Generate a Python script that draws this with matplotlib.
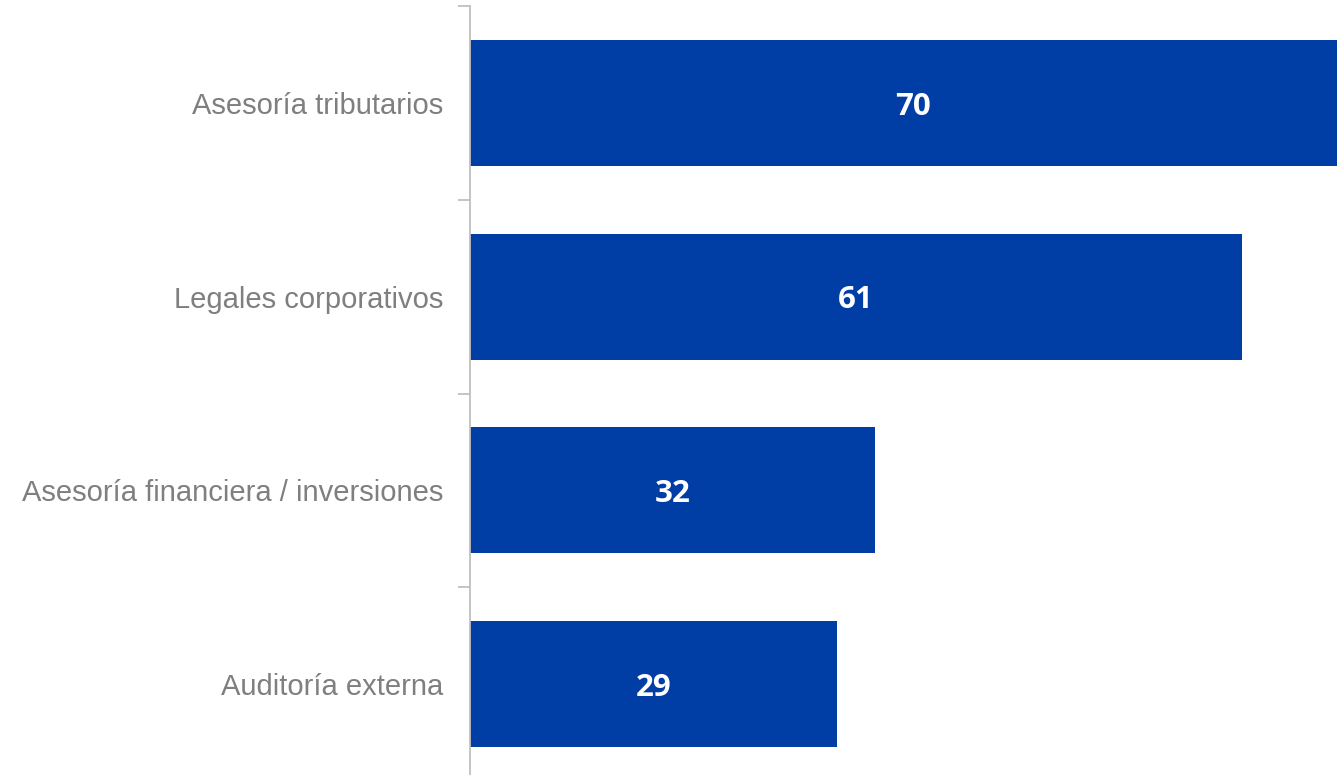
import matplotlib
matplotlib.use("Agg")
import matplotlib.pyplot as plt

categories = ["Asesoría tributarios", "Legales corporativos",
              "Asesoría financiera / inversiones", "Auditoría externa"]
values = [70, 61, 32, 29]

bar_color = "#003DA5"
axis_color = "#BFBFBF"

fig = plt.figure(figsize=(13.37, 7.75), dpi=100)
ax = fig.add_axes([470 / 1337, -6 / 775, 1 - 470 / 1337, 775 / 775])

ypos = list(range(len(categories)))
ax.barh(ypos, values, height=0.65, color=bar_color, left=0, clip_on=True)

for y, v in zip(ypos, values):
    ax.text(v / 2, y + 0.02, str(v), ha="center", va="center", color="white",
            fontsize=22.5, fontweight="bold", family="Open Sans", clip_on=False)

ax.set_ylim(len(categories) - 0.5, -0.5)
ax.set_xlim(0, 68.5)

ax.set_yticks([i - 0.5 for i in range(len(categories) + 1)])
ax.set_yticklabels([])
ax.set_yticks(ypos, minor=True)
ax.set_yticklabels(categories, minor=True)
ax.tick_params(axis="y", which="major", length=9, color=axis_color, width=1.3)
ax.tick_params(axis="y", which="minor", length=0, pad=19.5, labelsize=21,
               labelcolor="#7F7F7F")
for lbl in ax.get_yticklabels(minor=True):
    lbl.set_family("Liberation Sans")

ax.set_xticks([])
for s in ["top", "right", "bottom"]:
    ax.spines[s].set_visible(False)
ax.spines["left"].set_color(axis_color)
ax.spines["left"].set_linewidth(1.3)

fig.savefig("out.png", dpi=100)
